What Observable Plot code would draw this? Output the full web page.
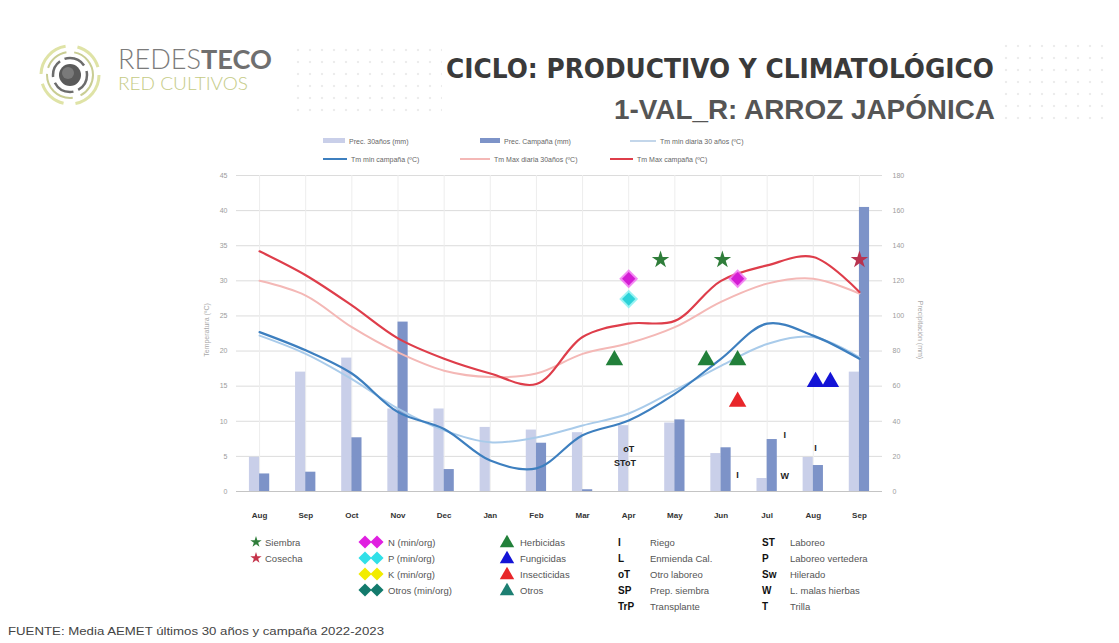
<!DOCTYPE html>
<html><head><meta charset="utf-8">
<script src="https://cdn.jsdelivr.net/npm/d3@7"></script>
<script src="https://cdn.jsdelivr.net/npm/@observablehq/plot@0.6"></script>
<style>
body{margin:0;width:1119px;height:643px;overflow:hidden;background:#fff;position:relative;font-family:"Liberation Sans",Arial,sans-serif}
#chart{position:absolute;left:0;top:160px}
#deco{position:absolute;left:0;top:0;pointer-events:none}
.dots{position:absolute;background-image:radial-gradient(circle,#ececec 1.2px,transparent 1.6px);background-size:12px 12px}
</style></head><body>
<div class="dots" style="left:292px;top:44px;width:150px;height:70px"></div>
<div class="dots" style="left:1000px;top:40px;width:110px;height:80px"></div>
<div id="chart"></div>
<svg id="deco" width="1119" height="643"></svg>
<script>
// ---------------- data ----------------
const months = ["Aug","Sep","Oct","Nov","Dec","Jan","Feb","Mar","Apr","May","Jun","Jul","Aug","Sep"];
const prec30   = [19.5, 68, 76, 47, 47, 36.5, 35, 33.5, 37.5, 39, 21.6, 7.4, 19.4, 68];
const precCamp = [10, 11, 30.6, 96.5, 12.5, 0, 27.5, 1, 0, 40.8, 24.9, 29.6, 14.8, 161.8];
const tmin30   = [22.2, 19.6, 16.0, 11.8, 8.7, 7.0, 7.7, 9.4, 11.1, 14.4, 17.9, 21.0, 22.0, 19.1];
const tminCamp = [22.7, 20.1, 16.8, 11.3, 8.9, 4.4, 3.3, 8.0, 10.1, 13.9, 18.9, 23.9, 22.2, 18.9];
const tmax30   = [30.0, 27.9, 23.4, 19.8, 17.2, 16.3, 16.8, 19.6, 21.1, 23.4, 27.0, 29.6, 30.3, 28.2];
const tmaxCamp = [34.2, 30.8, 26.5, 21.8, 18.9, 16.8, 15.3, 22.0, 23.9, 24.3, 30.0, 32.2, 33.4, 28.4];
const tempTicks = [0,5,10,15,20,25,30,35,40,45];
const precTicks = [0,20,40,60,80,100,120,140,160,180];
// events: m = month position (0 = Aug 2022), t = height on temperature axis
const siembra = [{m:8.69,t:33.0},{m:10.03,t:33.0}];
const cosecha = [{m:13,t:33.0}];
const nApl    = [{m:8,t:30.3},{m:10.36,t:30.3}];
const pApl    = [{m:8,t:27.4}];
const herbic  = [{m:7.69,t:18.7},{m:9.68,t:18.7},{m:10.36,t:18.7}];
const fungic  = [{m:12.05,t:15.6},{m:12.37,t:15.6}];
const insect  = [{m:10.36,t:12.8}];
const codes   = [{m:8.0,t:6.1,c:"oT"},{m:7.92,t:4.1,c:"SToT"},{m:10.36,t:2.3,c:"I"},
                 {m:11.38,t:8.1,c:"I"},{m:11.38,t:2.2,c:"W"},{m:12.05,t:6.2,c:"I"}];

// ---------------- colours ----------------
const C = {p30:"#c9cfe9", pc:"#7d93c8", tmin30:"#a9cbea", tminC:"#3d7fbf", tmax30:"#f4b8b6", tmaxC:"#de3d4a"};

const rows = months.map((m,i)=>({i, m, p30:prec30[i], pc:precCamp[i]}));
const lineRows = (arr,key)=>arr.map((v,i)=>({i,v,key}));
const RATIO = 4; // 180 mm <-> 45 ºC

const chart = Plot.plot({
  width:1119, height:370, marginLeft:236, marginRight:237, marginTop:15, marginBottom:39,
  x:{type:"linear", domain:[-0.5,13.5]},
  y:{domain:[0,45]},
  style:{fontFamily:"Liberation Sans, Arial, sans-serif", background:"transparent"},
  marks:[
    Plot.gridY(tempTicks, {stroke:"#dcdcdc", strokeOpacity:1}),
    Plot.gridX(d3.range(0,14), {stroke:"#ededed", strokeOpacity:1}),
    Plot.rect(rows, {x1:d=>d.i-0.22, x2:d=>d.i, y1:0, y2:d=>d.p30/RATIO, fill:C.p30}),
    Plot.rect(rows, {x1:d=>d.i, x2:d=>d.i+0.22, y1:0, y2:d=>d.pc/RATIO, fill:C.pc}),
    Plot.ruleY([0], {stroke:"#c4c4c4"}),
    Plot.line(lineRows(tmax30,"a"), {x:"i", y:"v", curve:"catmull-rom", stroke:C.tmax30, strokeWidth:2}),
    Plot.line(lineRows(tmin30,"b"), {x:"i", y:"v", curve:"catmull-rom", stroke:C.tmin30, strokeWidth:2}),
    Plot.line(lineRows(tminCamp,"c"), {x:"i", y:"v", curve:"catmull-rom", stroke:C.tminC, strokeWidth:2.2}),
    Plot.line(lineRows(tmaxCamp,"d"), {x:"i", y:"v", curve:"catmull-rom", stroke:C.tmaxC, strokeWidth:2.2}),
    Plot.dot(siembra, {x:"m", y:"t", symbol:"star", r:5.5, fill:"#2f7d3a"}),
    Plot.dot(cosecha, {x:"m", y:"t", symbol:"star", r:5.5, fill:"#b8334f"}),
    Plot.dot(nApl, {x:"m", y:"t", symbol:"diamond2", r:8.5, fill:"#f06cf0", opacity:0.8}),
    Plot.dot(nApl, {x:"m", y:"t", symbol:"diamond2", r:6, fill:"#d41dd4"}),
    Plot.dot(pApl, {x:"m", y:"t", symbol:"diamond2", r:8.5, fill:"#7ff0f0", opacity:0.8}),
    Plot.dot(pApl, {x:"m", y:"t", symbol:"diamond2", r:6, fill:"#2cd2d8"}),
    Plot.dot(herbic, {x:"m", y:"t", symbol:"triangle", r:6.5, fill:"#22803a"}),
    Plot.dot(fungic, {x:"m", y:"t", symbol:"triangle", r:6.5, fill:"#1414d6"}),
    Plot.dot(insect, {x:"m", y:"t", symbol:"triangle", r:6.5, fill:"#e8262a"}),
    Plot.text(codes, {x:"m", y:"t", text:"c", fontSize:9, fontWeight:"bold", fill:"#222"}),
    Plot.axisY(tempTicks, {anchor:"left", tickSize:0, tickPadding:9, fontSize:7, fill:"#9c9c9c", label:null}),
    Plot.axisY(precTicks.map(v=>v/RATIO), {anchor:"right", tickSize:0, tickPadding:10, fontSize:7, fill:"#9c9c9c", tickFormat:d=>d*RATIO, label:null}),
    Plot.axisX(d3.range(0,14), {anchor:"bottom", tickSize:0, tickPadding:21, fontSize:8, fontWeight:"bold", fill:"#333", tickFormat:i=>months[i], label:null})
  ]
});
document.getElementById("chart").appendChild(chart);

// ---------------- decorations, titles, legends ----------------
const svg = d3.select("#deco");
// logo
const lg = svg.append("g").attr("transform","translate(70,75)");
lg.append("circle").attr("r",29).attr("fill","none").attr("stroke","#dfe3a6").attr("stroke-width",3).attr("stroke-dasharray","40 12 30 10");
lg.append("circle").attr("r",23).attr("fill","none").attr("stroke","#c9cd93").attr("stroke-width",2).attr("stroke-dasharray","25 8 40 6");
lg.append("circle").attr("r",17).attr("fill","none").attr("stroke","#6c6c6c").attr("stroke-width",2.5).attr("stroke-dasharray","18 5 22 6");
lg.append("circle").attr("r",11).attr("fill","#5a5a5a");
lg.append("circle").attr("r",6).attr("cx",-2).attr("cy",-2).attr("fill","#7a7a7a");
const t1 = svg.append("text").attr("x",118).attr("y",69).attr("font-family","Lato, 'Liberation Sans', sans-serif").attr("font-size",27).attr("fill","#7b7b7b").attr("textLength",154).attr("lengthAdjust","spacingAndGlyphs");
t1.append("tspan").attr("font-weight",300).text("REDES");
t1.append("tspan").attr("font-weight",700).attr("fill","#6f6f6f").text("TECO");
svg.append("text").attr("x",118).attr("y",90).attr("font-family","Lato, 'Liberation Sans', sans-serif").attr("font-weight",300).attr("font-size",17).attr("fill","#c5cb86").attr("textLength",130).attr("lengthAdjust","spacingAndGlyphs").text("RED CULTIVOS");

svg.append("text").attr("x",446).attr("y",78).attr("font-family","'DejaVu Sans', sans-serif").attr("font-weight","bold").attr("font-size",27).attr("fill","#3a3a3a").attr("textLength",548).attr("lengthAdjust","spacingAndGlyphs").text("CICLO: PRODUCTIVO Y CLIMATOLÓGICO");
svg.append("text").attr("x",614).attr("y",119).attr("font-family","'Liberation Sans', Arial, sans-serif").attr("font-weight","bold").attr("font-size",28).attr("fill","#555").attr("textLength",381).attr("lengthAdjust","spacingAndGlyphs").text("1-VAL_R: ARROZ JAPÓNICA");

// top legend
const tl = svg.append("g").attr("font-family","'Liberation Sans', Arial, sans-serif").attr("font-size",7).attr("fill","#666");
const topLeg = [
  {x:323,w:22,y:141,kind:"rect",c:C.p30,label:"Prec. 30años (mm)"},
  {x:480,w:20,y:141,kind:"rect",c:C.pc,label:"Prec. Campaña (mm)"},
  {x:630,w:26,y:141,kind:"line",c:"#c3d6ea",label:"Tm min diaria 30 años (ºC)"},
  {x:323,w:24,y:159,kind:"line",c:C.tminC,label:"Tm min campaña (ºC)"},
  {x:460,w:30,y:159,kind:"line",c:C.tmax30,label:"Tm Max diaria 30años (ºC)"},
  {x:610,w:23,y:159,kind:"line",c:C.tmaxC,label:"Tm Max campaña (ºC)"}
];
topLeg.forEach(d=>{
  if(d.kind==="rect") tl.append("rect").attr("x",d.x).attr("y",d.y-3).attr("width",d.w).attr("height",5).attr("fill",d.c);
  else tl.append("line").attr("x1",d.x).attr("x2",d.x+d.w).attr("y1",d.y).attr("y2",d.y).attr("stroke",d.c).attr("stroke-width",2);
  tl.append("text").attr("x",d.x+d.w+4).attr("y",d.y+2.5).text(d.label);
});

// axis titles
svg.append("text").attr("transform","translate(209,330) rotate(-90)").attr("text-anchor","middle").attr("font-family","'Liberation Sans', Arial").attr("font-size",7).attr("fill","#a8a8a8").text("Temperatura (ºC)");
svg.append("text").attr("transform","translate(918,330) rotate(90)").attr("text-anchor","middle").attr("font-family","'Liberation Sans', Arial").attr("font-size",7).attr("fill","#a8a8a8").text("Precipitación (mm)");

// bottom legend
const bl = svg.append("g").attr("font-family","'Liberation Sans', Arial, sans-serif").attr("font-size",9.5).attr("fill","#555");
const sym = (type,size)=>d3.symbol().type(type).size(size)();
const rowsY = [542,558,574,590,606];
function symAt(type,size,x,y,fill){bl.append("path").attr("d",sym(type,size)).attr("transform",`translate(${x},${y})`).attr("fill",fill);}
function txt(x,y,s,opt={}){const t=bl.append("text").attr("x",x).attr("y",y+3.5).text(s); if(opt.bold) t.attr("font-weight","bold").attr("fill","#111").attr("font-size",10); return t;}
symAt(d3.symbolStar,40,256,rowsY[0],"#2f7d3a"); txt(265,rowsY[0],"Siembra");
symAt(d3.symbolStar,40,256,rowsY[1],"#c5334a"); txt(265,rowsY[1],"Cosecha");
[["#e020e0","N (min/org)"],["#30e0e8","P (min/org)"],["#f2ec00","K (min/org)"],["#137a6c","Otros (min/org)"]].forEach((d,k)=>{
  symAt(d3.symbolDiamond2,110,365,rowsY[k],d[0]); symAt(d3.symbolDiamond2,110,377,rowsY[k],d[0]); txt(388,rowsY[k],d[1]);
});
[["#22803a","Herbicidas"],["#1414d6","Fungicidas"],["#e8262a","Insecticidas"],["#1d7f72","Otros"]].forEach((d,k)=>{
  symAt(d3.symbolTriangle,90,507,rowsY[k]+1,d[0]); txt(520,rowsY[k],d[1]);
});
[["I","Riego"],["L","Enmienda Cal."],["oT","Otro laboreo"],["SP","Prep. siembra"],["TrP","Transplante"]].forEach((d,k)=>{
  txt(618,rowsY[k],d[0],{bold:true}); txt(650,rowsY[k],d[1]);
});
[["ST","Laboreo"],["P","Laboreo vertedera"],["Sw","Hilerado"],["W","L. malas hierbas"],["T","Trilla"]].forEach((d,k)=>{
  txt(762,rowsY[k],d[0],{bold:true}); txt(790,rowsY[k],d[1]);
});

// footer
svg.append("text").attr("x",8).attr("y",635).attr("font-family","'Liberation Sans', Arial, sans-serif").attr("font-size",10.5).attr("fill","#444").attr("textLength",376).attr("lengthAdjust","spacingAndGlyphs").text("FUENTE: Media  AEMET últimos 30 años y campaña 2022-2023");
</script>
</body></html>
